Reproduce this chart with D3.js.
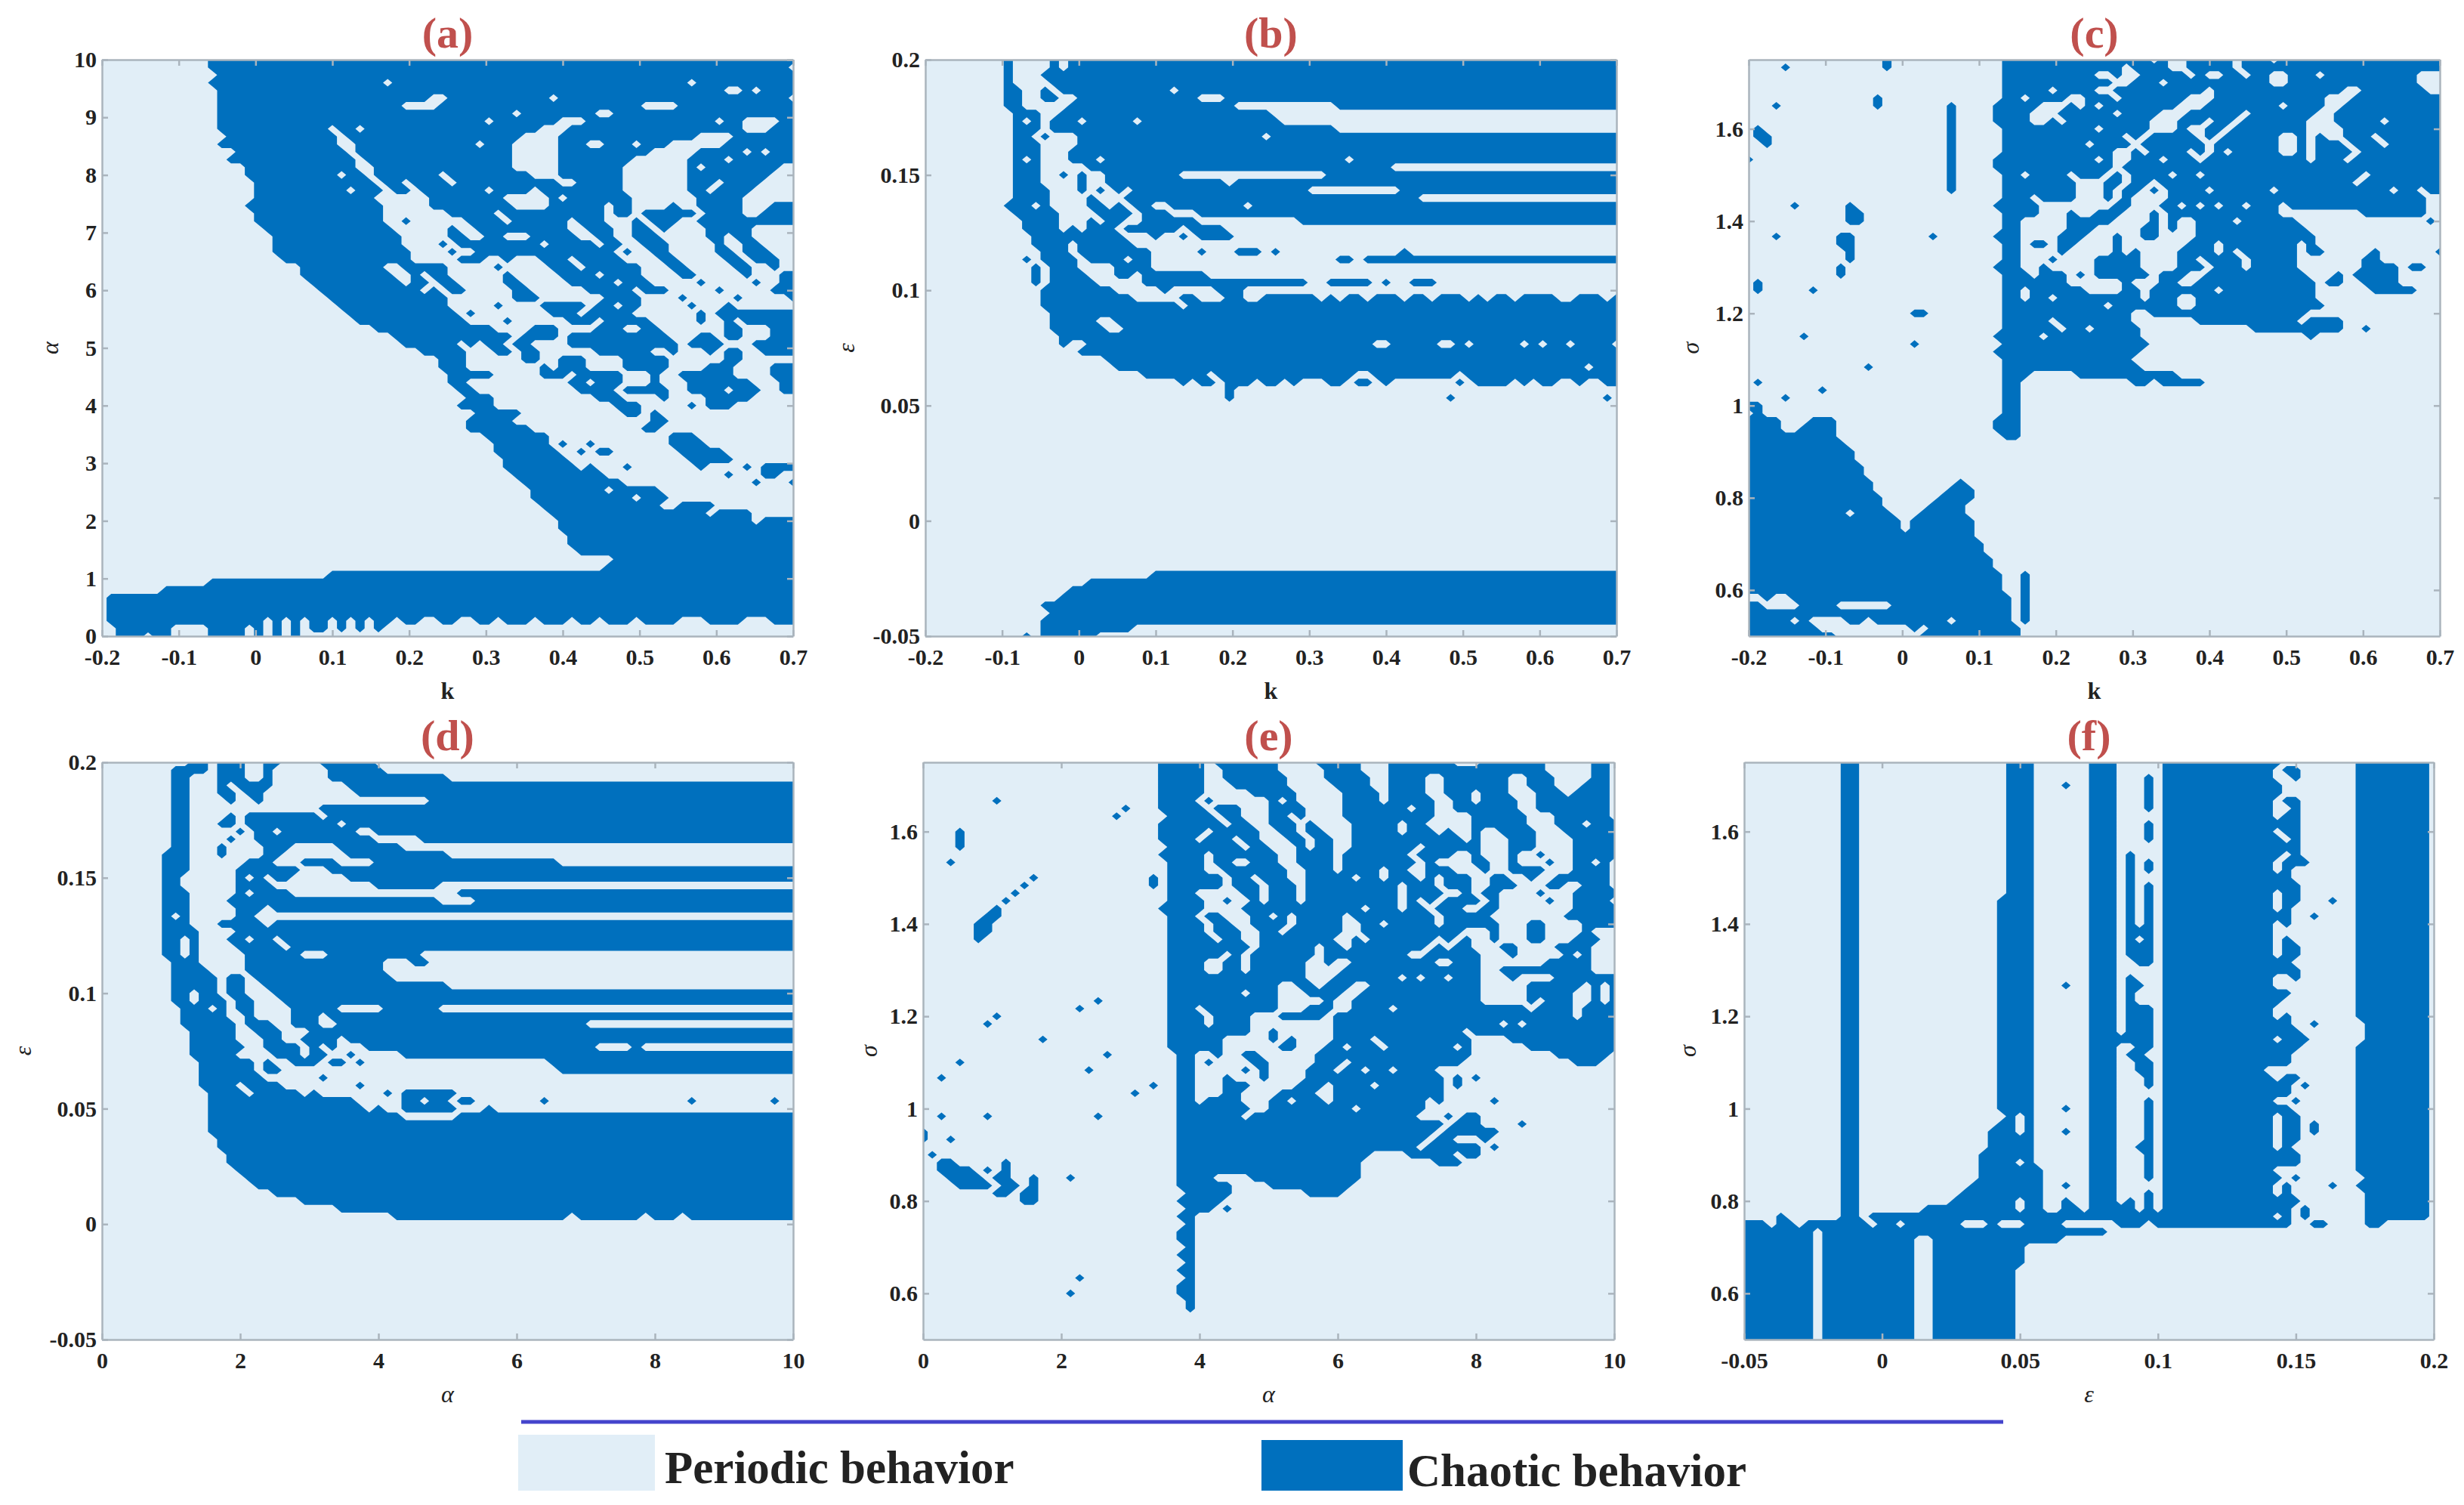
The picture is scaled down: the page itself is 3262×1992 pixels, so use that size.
<!DOCTYPE html>
<html>
<head>
<meta charset="utf-8">
<script src="https://cdn.jsdelivr.net/npm/d3@7"></script>
<style>
  html, body { margin: 0; background: #fff; }
  text { font-family: "Liberation Serif", serif; }
</style>
</head>
<body>
<svg id="chart" width="3262" height="1992"></svg>
<script>
// Each row (top to bottom) lists the chaotic columns of a 76x76 sweep: "runs/holes"
var rowsA = [
"12-75","12-74","13-75","12-75/31,64","13-75/68-69,71","13-74/36-37,49","13-75/33-36,59-62","13-75/45,54-55",
"13-75/42,50-52,67,70-73","13-75/25,28,48-50,70-72","14-75/26,46-49,65-68","13-75/26-27,41,45-49,53-54,58,62-67",
"15-75/27,45-49,60-64,70,72","14-75/28,45-49,58-63,68","16-75/28-29,45-49,57-63,65,74-75","16-75/26,29,37,47-49,57-63,73-75",
"17-75/30,33,38,50-51,57-63,67,72-75","17-75/27,31,34,42,47,57-63,66,71-75","17-75/30-35,44-48,50,58-64,70-75",
"16-75/31-35,45-48,55,58-61,63-64,70-72","17-75/31-37,43,55,58,65,70-71","17-75/31-32,34-39,44,51,55-57,59,63-64",
"18-75/32-37,39-40,51-52,56-57,60,62-65,71-75","19-75/33-37,40-41,44-46,52-53,56-57,61-65,68,71-75",
"19-75/33-36,38,48,54,57-58,62-66,68-69,72-75","19-75/34-37,39-40,56,58-59,62-66,69,73-75",
"20-75/34-38,42-43,45-47,51,57-60,63-67,70,74-75","22-75/31-32,38-42,44-48,52,59-61,64-68,71-72,74-75",
"22-75/32-33,35,38-43,45-49,54,59-62,65-69,71-73","23-75/33,36,39-43,46-50,56,60-64,66-70,72-73",
"24-75/35,37,40-44,47-52,58,62-66,68-72","25-75/38-44,48-54,59-62,64-68,70-74","26-75/38-42,44-47,53,56,59-63,65-67,69-75",
"27-75/39,41-48,52,58-64,66","28-75/40-43,45-50,54,60-64,66-67,69","30-75/43-46,50-53,57-58,61-65,66-67,70-72",
"32-75/45,50,62-64,67,70-72","33-75/39,41,44,47-50,63,68-70","35-75/40-42,45,48-53,60-61,63-65,67,70-71",
"37-75/40-45,48-49,53-56,62-67,70-75","37-75/40-47,49,53-56,62-65,69-72","38-75/43-47,51,57-59,61-62,69-72",
"38-75/40-50,53,57-59,61-63,71-73","39-75/41-51,56,62-63,68,72-73","40-42 54-56 61 66-70","39-42 56-58 64 66-68",
"41-45 57-58 60","40-44 60-61","40-46 59-60","42-48 62-64","43-48 50 53 62-65","43-49 52 54-55 63-67","44-50 64-68",
"44-51 53 57 65 70 72-75","45-54 68 72-73","46-56 71 75","47-60/55","47-61/58","48-66/61-62","49-70/66","50-75/71",
"50-75","51-75","51-75","52-75","56-75","55-75","25-75","12-75","7-75","1-75","1-75","1-75",
"1-75/18,20,22,25,27,29,32,35-36,39-40,43,47,51,54,58,63-65,70-72","2-7 12-15 17 19 21 23-24 26 28 30","2-4 6-7 12-15 17 19 21"
];
var rowsB = [
"9 14 16-75","9 14 16-75","9 13-75","9 14-75","9-10 13-75/14,27","9-10 13-14 17-75/30-32","9-10 16-75/34-44","10-12 15-37",
"10-12 14-38/11,17,23","10-12 14-44","10-13 17-75/12,37","10-12 17-75","10-12 16-75","10-12 16-75/11,19,46","10-12 18-50",
"10-12 15 17 20-75/28-43","10-12 17 20-75/33","10-13 17-75/18,20,22,42-51","10-13 18-53/19-21","9-13 18-75/12,20,22,25-26,35",
"10-14 19-75/23,27-29","11-14 18-75/19,22-23,30-40","11-14 16 18-32/21,28","12-21 25 28 30-33","12-22/16",
"13-24 30 34-36 38 52/16","11 13-16 18-24 45-46 48-75/22","12 14-16 21-24","12 14-17 21-22 24-30","12 14-18 24-41 44-48 50 53-55",
"13-20 26 32-34","13-22 28-29 33-34 37-75/43,45,48,52,55,59,61,64,69,70,74","13-75/28","14-75","14-75/19-20","14-75/20-21","15-75",
"15-75/16-17,49-50,56-57,59,65,67,70,75","17-75","20-75","21-75/72","24-75/31,47-48,58",
"28 30-31 33-35 37-38 40 44-45 47-48 50 58 60-63 65 67-68 71 74-75","33","33 57 74",
"","","","","","","","","","","","","","","","","","","","","","",
"25-75","18-75","16-75","15-75","13-75","14-75","13-75","13-22","11 13-18"
];
var rowsC = [
"15 28-75/44,46-47,53,57","4 15 28-75/41,46-47,53","28-75/38-39,41-42,48,50-51,54,57-58,62,73-75","28-75/40-41,45,57-58,73-75",
"28-75/33,38-39,50,65-66,74-75","14 28-75/30,35-36,40,48-50,63-65","3 14 22 27-75/32-34,36,38,47-49,58,63-64",
"22 27-75/31-33,40,45-47,54,62-63","22 27-75/31-32,34,44-46,50,53,61-63,69","1 22 28-75/38,44-46,48-49,52,61-64",
"1-2 22 28-75/41,43,49,51,58-59,61,63-64,68","2 22 28-75/37,42,50,58-59,61,65,69","22 28-75/40-41,43,48,50,52,58-59,61,66",
"0 22 27-75/38,40-41,45,49,61,65","22 27-75/40","22 28-75/30,35,39,41,46,49,67","22 28-75/36-38,41,44,66",
"22 28-75/36-38,40,43,45,50,57,70,73","28-75/31,36-38,40,42-45,74-75","5 11 27-75/32-39,42-44,47,49,51,54,58,74-75",
"11-12 28-75/32-34,36-37,41-43,45,58-66,74-75","11-12 28-59 74/30-34,40-43,45,47-48,53","28-60/30-34,38-42,45,47-48",
"3 10-11 20 27-61/30-33,37-39,41-42,45-48","10-11 28-61/30,33,36-39,41-42,43,44-47,51,60","11 28-62 68 75/30-33,35-39,41,43-46,51,53,60",
"11 28-59 67-68/30-32,34-37,43-46,49,54","10 27-59 67-70 72-73/30-31,33-37,43-46,50,54","10 28-60 64 66-70/31,35,37,44,48-49",
"1 28-61 63-64 67-70/35-40,42-44,47-48","1 7 28-61 68-72/30,37-40,43,51","28-61/30,33,43,47-48","28-62/39,47-48","18-19 28-60/42-43",
"28-64/33,42-48,60","28-42 55-64 67/34,37","6 27-42 61/32","18 28-43","27-42","28-41","13 28-42","28-30 36-46","1 28-29 42-43 45-49",
"8 28-29","4 28-29","0-1 28-29","1 28-29","0-3 7-9 27-29","0-3 6-9 27-29","0-9 28-29","0-10","0-11","0-11","0-12","0-12","0-13 23",
"0-13 22-24","0-14 21-24","0-14 20-23","0-15 19-23/11","0-16 18-24","0-16 18-24","0-24","0-25","0-25","0-26","0-26","0-27 30",
"0-27 30","0-27 30","2-28 30/3-4","0-28 30/2-5,10-15","0-28 30","0-30/5,7-10,13,22,29","0-29/8-17,19","0-9 19-29"
];
var rowsD = [
"10-11 13-15 18-19 24-29","8-11 13-15 18 25-30","8-9 13-15 18 25-37","8-9 13-18 27-75/14","8-9 13-14 16-17 28-75","8-9 14 17 36-75",
"8-9 24-75","8-9 14 16-75/24","8-9 13-14 16-75/26","8-9 15 17-75/19,28-29","8-9 14 17-75/30-34","8-9 13 18-20 26-32","7-9 13 18-19 27-37",
"7-9 16-18 22-25 30-49","7-9 15-75/22-24","7-8 15-75/16,18,21-26","7-8 15-18 30-36","7-9 15-20 39-75/16","7-9 14-36 41-75","7-9 15-17 19-75",
"7-9 15-16/8","7-9 13-17 19-75","7-10 15-75","7-10 14-75/9,16,19","7-10 15-75/9,20","7-10 16-34/9,22-24","8-10 16-30 34-35","8-11 16-30",
"8-12 14-15 17-31","8-12 14-15 18-37","8-12 14-15 19-75/10","8-13 15-16 20-75/10","9-13 15-16 21-36/12,26-30","9-13 16 21-75/24",
"9-14 16-18 21-52/24-25","10-14 17-19 23-75","10-14 18-19 22-25 27-75","10-15 18-21 23 25 29-53 58","10-14 19-21 23-24 27 33-75",
"11-16 18 21-23 25-26 28 49-75","11-16 18-19 50-75","11-17 24","11-19 28/15","12-21 23 31 33-38/16","12-27 33-40 48 64 73/35,38",
"12-28 30 33-38 42","12-32 39-75","12-75","12-75","13-75","13-75","14-75","14-75","15-75","16-75","17-75","19-75","22-75",
"26-75","32-50 52-58 60-62 64-75"
];
var rowsE = [
"26-30 32-38 43-47 51-74/58-60,68-72","26-30 33-38 44-47 51-74/68-72","26-30 33-39 44-48 51-74/55-56,64-65,69-72","26-30 34-39 45-48 51-74/55-56,64-65,69-71",
"26-30 36-40 46-49 51-74/55-56,60,64-66,70","8 26-49 51-74/30,32-37,39,41-45,56-57,60,65-66","22 26-74/31,35-37,42-45,53,56-57,65-66",
"21 27-74/32,35-37,40,42-45,56-59,66-68","26-75/33,36-37,41,43-46,52,55-59,66-68,72","4 26-75/31,37-38,41,44-46,52,56,58-59,61-62,67-69",
"4 26-75/30,34,37-39,42,45-46,59,61-63,67-70","4 27-75/35,38-40,42,45-46,54,61-63,67-70","26-75/31,39-40,45,53,58-59,61-63,65-66,68-70",
"3 27-75/31,34-35,39-40,45,54,56-59,62-63,65-67,69-70,73,75","27-74/31-32,40-41,45,50,53-54,58-59,60,62-63,68-70",
"12 25-75/26,33,36,40-41,47,50,54,56,60-61,64-65,67-68,75","11 25-75/26,33,37,41,52,56,60-61,65-67,70-71,75",
"10 27-75/30-32,33-34,37,41,52,57-58,60,63-66,68-70","9 27-75/31-32,34-35,37,41,52,54,56,61,63-67,69-70,75",
"8 26-75/31-34,48,52,55,59-60,63-70","7-8 27-75/30,33-35,38,40,46,56,62,63-69","6-7 27-75/31,34-35,40,46-47,50,56,63-65,68-71",
"6-7 27-72/31,35-36,39,46-47,59-61,63-65,68-71","6 27-73/32,35-36,45-46,48,56,58,60-61,63-65,68-69,70","27-72/36,43,46,55,57,60-62,65-68",
"27-72 /33,35,43,53-54,61-63,65-69,71","27-72/31-32,35,42-43,45-46,56-57,61-67","27-75/31-32,35,42-45,61-62,73-75",
"27-75/42-44,52,54,57,61-63,65-68","27-75/39-40,43,47-48,61-65,72,74","27-75/35,39-41,46-47,61-65,71-72,74","19 27-75/39-43,45-46,61-65,67,71-72,74",
"17 27-75/30,39-41,45-46,51,66,71","8 27-75/31,36-38,44,71","7 27-75/31,36-41,42-44,63,65","27-75/36-37,39-44,59",
"13 27-75/33-35,36-37,39,41-44,49,60-63","27-75/33-35,36-38,41-43,46,50,58,60-65","20 28-59 69-74/30-31,33-34,37-40,41-42",
"4 28-58 71-73/30,32-35,38-42,46","18 28-56/30-31,32-34,36,38-41,45,48,51,56","2 28-56 58 60/30-32,34-36,38-41",
"25 28-56 58/30-32,36-40,44,49","23 28-56/30-32,35-38,43-44","28-56 62/30,35-37,40,44,55","28-54/36-37,47","2 7 19 28-53 57 59-60/35",
"28-60 65/57","0 28-62/56","0 3 28-61/55,58-60","28-60 62/54","1 28-48 53-60/58","2-3 9 28-47 56-58","2-5 7 9 28-47","3-9 12 16 28-31 36-47/7",
"4-10 12 28-33 38-46/8","8-9 11-12 29-33 42-45","11-12 28-32","29-31 33","28-29","29","28-29","28-29","29","28-29","29","28-29","17 29","28-29",
"16 28-29","29","29"
];
var rowsF = [
"11-12 29-31 38-40 46-58 67-74","11-12 29-31 38-40 46-57 59-60 67-74","11-12 29-31 38-40 44 46-57 60 67-74","11-12 29-31 35 38-40 44 46-58 67-74",
"11-12 29-31 38-40 44 46-58 67-74","11-12 29-31 38-40 44 46-60 67-74/58","11-12 29-31 38-40 44 46-60 67-74/58-59","11-12 29-31 38-40 46-60 67-74/58",
"11-12 29-31 38-40 44 46-60 67-74","11-12 29-31 38-40 44 46-60 67-74/58","11-12 29-31 38-40 44 46-60 67-74/59","11-12 29-31 38-40 46-60 67-74",
"11-12 29-31 38-40 42 46-60 67-74/59","11-12 29-31 38-40 42 44 46-61 67-74/58","11-12 29-31 38-40 42 44 46-59 67-74/58","11-12 29-31 38-40 42 46-59 67-74",
"11-12 29-31 38-40 42 44 46-60 67-74","11-12 29-31 38-40 42 44 46-60 67-74/58","11-12 28-31 38-40 42 44 46-60 64 67-74/58","11-12 28-31 38-40 42 44 46-59 67-74/58",
"11-12 28-31 38-40 42 44 46-59 62 67-74","11-12 28-31 38-40 42 44 46-57 59 67-74","11-12 28-31 38-40 42-44 46-57 67-74","11-12 28-31 38-40 42-44 46-57 59 67-74/43",
"11-12 28-31 38-40 42-44 46-57 59-60 67-74","11-12 28-31 38-40 42-44 46-57 59-60 67-74","11-12 28-31 38-40 43-44 46-59 67-74","11-12 28-31 38-40 46-60 67-74",
"11-12 28-31 38-40 42 46-57 60 67-74","11-12 28-31 35 38-40 42-43 46-57 67-74","11-12 28-31 38-40 42 46-59 67-74","11-12 28-31 38-40 42 46-58 67-74",
"11-12 28-31 38-40 42-44 46-57 67-74","11-12 28-31 38-40 42-44 46-57 59 67-74","11-12 28-31 38-40 42-44 46-59 62 68-74","11-12 28-31 38-40 42-44 46-60 68-74",
"11-12 28-31 38-44 46-61 68-74/58","11-12 28-31 38-40 43-44 46-60 67-74","11-12 28-31 38-40 42-43 46-59 67-74","11-12 28-31 38-40 43-44 46-59 67-74",
"11-12 28-31 38-40 43-44 46-56 67-74","11-12 28-31 38-40 44 46-57 59-60 67-74","11-12 28-31 38-40 44 46-59 61 67-74","11-12 28-31 38-40 46-59 67-74",
"11-12 28-31 38-40 44 46-60 67-74/58-59","11-12 28-31 35 38-40 44 46-59 67-74","11-12 29-31 38-40 44 46-57 59-60 67-74/30","11-12 28-31 38-40 44 46-57 59-60 62 67-74/30",
"11-12 27-31 35 38-40 44 46-57 59-60 62 67-74/30","11-12 27-31 38-40 44 46-57 59-60 67-74","11-12 27-31 38-40 43-44 46-57 59 67-74","11-12 26-31 38-40 44 46-60 67-74",
"11-12 26-31 38-40 44 46-60 67-74/30","11-12 26-32 38-40 44 46-57 67-74","11-12 26-32 38-40 44 46-58 60 68-74","11-12 25-32 35 38-40 46-57 59 64 67-74",
"11-12 24-32 38-40 44 46-59 68-74/58","11-12 23-32 35 38-40 42 44 46-60 68-74/30","11-12 20-32 35-36 38-42 44 46-61 68-74/30,60","4 11-12 14-61 68-74/58,60",
"0-59 62-63 68-69/3,6,14,17,24-26,28-30,35-40,44","0-39/8","0-7 9-18 21-34","0-7 9-18 21-30","0-7 9-18 21-30","0-7 9-18 21-30","0-7 9-18 21-29","0-7 9-18 21-29",
"0-7 9-18 21-29","0-7 9-18 21-29","0-7 9-18 21-29","0-7 9-18 21-29","0-7 9-18 21-29","0-7 9-18 21-29","0-7 9-18 21-29","0-7 9-18 21-29"
];

var kDomain = [-0.2, 0.7];
var alphaDomain = [0, 10];
var epsDomain = [-0.05, 0.2];
var sigmaDomain = [0.5, 1.75];
var kTicks = [-0.2, -0.1, 0, 0.1, 0.2, 0.3, 0.4, 0.5, 0.6, 0.7];
var alphaTicksX = [0, 2, 4, 6, 8, 10];
var alphaTicksY = [0, 1, 2, 3, 4, 5, 6, 7, 8, 9, 10];
var epsTicks = [-0.05, 0, 0.05, 0.1, 0.15, 0.2];
var sigmaTicks = [0.6, 0.8, 1, 1.2, 1.4, 1.6];

var panelTitles = ["(a)", "(b)", "(c)", "(d)", "(e)", "(f)"];
var legendLabels = ["Periodic behavior", "Chaotic behavior"];

var periodicColor = "#e1eef7";
var chaoticColor = "#0070be";
var frameColor = "#aab4bd";
var N = 76;

var panels = [
	{title: panelTitles[0], rows: rowsA, xd: kDomain, yd: alphaDomain, xt: kTicks, yt: alphaTicksY, xl: "k", yl: "\u03b1", box: [135, 79, 1050, 842], ylx: 77},
	{title: panelTitles[1], rows: rowsB, xd: kDomain, yd: epsDomain, xt: kTicks, yt: epsTicks, xl: "k", yl: "\u03b5", box: [1225, 79, 2140, 842], ylx: 1131},
	{title: panelTitles[2], rows: rowsC, xd: kDomain, yd: sigmaDomain, xt: kTicks, yt: sigmaTicks, xl: "k", yl: "\u03c3", box: [2315, 79, 3230, 842], ylx: 2249},
	{title: panelTitles[3], rows: rowsD, xd: alphaDomain, yd: epsDomain, xt: alphaTicksX, yt: epsTicks, xl: "\u03b1", yl: "\u03b5", box: [135, 1009, 1050, 1773], ylx: 41},
	{title: panelTitles[4], rows: rowsE, xd: alphaDomain, yd: sigmaDomain, xt: alphaTicksX, yt: sigmaTicks, xl: "\u03b1", yl: "\u03c3", box: [1222, 1009, 2137, 1773], ylx: 1161},
	{title: panelTitles[5], rows: rowsF, xd: epsDomain, yd: sigmaDomain, xt: epsTicks, yt: sigmaTicks, xl: "\u03b5", yl: "\u03c3", box: [2309, 1009, 3222, 1773], ylx: 2245}
];

function decode(rows) {
	var grid = new Array(N * N).fill(0);
	rows.forEach(function (s, r) {
		if (!s) return;
		var parts = s.split("/");
		parts[0].trim().split(/\s+/).forEach(function (run) {
			var b = run.split("-");
			for (var c = +b[0]; c <= +(b[1] || b[0]); c++) grid[r * N + c] = 1;
		});
		if (parts[1]) parts[1].split(",").forEach(function (run) {
			var b = run.split("-");
			for (var c = +b[0]; c <= +(b[1] || b[0]); c++) grid[r * N + c] = 0;
		});
	});
	return grid;
}

var svg = d3.select("#chart");

panels.forEach(function (p, idx) {
	var left = p.box[0], top = p.box[1], right = p.box[2], bottom = p.box[3];
	var x = d3.scaleLinear().domain(p.xd).range([left, right]);
	var y = d3.scaleLinear().domain(p.yd).range([bottom, top]);
	// grid index -> pixel, d3.contours puts sample i at i+0.5
	var col = d3.scaleLinear().domain([0.5, N - 0.5]).range([left, right]);
	var row = d3.scaleLinear().domain([0.5, N - 0.5]).range([top, bottom]);

	var g = svg.append("g");
	g.append("clipPath").attr("id", "clip" + idx).append("rect")
		.attr("x", left).attr("y", top).attr("width", right - left).attr("height", bottom - top);
	g.append("rect")
		.attr("x", left).attr("y", top).attr("width", right - left).attr("height", bottom - top)
		.attr("fill", periodicColor);

	var contours = d3.contours().size([N, N]).thresholds([0.5])(decode(p.rows));
	var path = d3.geoPath().projection(d3.geoTransform({
		point: function (a, b) { this.stream.point(col(a), row(b)); }
	}));
	g.append("path")
		.attr("clip-path", "url(#clip" + idx + ")")
		.attr("d", path(contours[0]))
		.attr("fill", chaoticColor);

	var fmt = function (d) { return String(d); };
	g.append("g").attr("transform", "translate(0," + bottom + ")")
		.call(d3.axisBottom(x).tickValues(p.xt).tickFormat(fmt).tickSizeInner(-8).tickSizeOuter(0).tickPadding(17));
	g.append("g").attr("transform", "translate(" + left + ",0)")
		.call(d3.axisLeft(y).tickValues(p.yt).tickFormat(fmt).tickSizeInner(-8).tickSizeOuter(0).tickPadding(7));
	g.append("g").attr("transform", "translate(0," + top + ")")
		.call(d3.axisTop(x).tickValues(p.xt).tickFormat("").tickSizeInner(-8).tickSizeOuter(0));
	g.append("g").attr("transform", "translate(" + right + ",0)")
		.call(d3.axisRight(y).tickValues(p.yt).tickFormat("").tickSizeInner(-8).tickSizeOuter(0));

	g.selectAll(".domain, .tick line").attr("stroke", frameColor).attr("stroke-width", 2.5);
	g.selectAll(".tick text")
		.attr("fill", "#222")
		.style("font-family", "'Liberation Serif', serif")
		.style("font-weight", "bold")
		.style("font-size", "30px");

	// panel title
	g.append("text")
		.attr("x", (left + right) / 2).attr("y", top - 16)
		.attr("text-anchor", "middle")
		.attr("fill", "#c0504d")
		.style("font-size", "58px").style("font-weight", "bold")
		.text(p.title);
	// axis names, the greek ones are thin italics
	g.append("text")
		.attr("x", (left + right) / 2).attr("y", bottom + 83)
		.attr("text-anchor", "middle").attr("fill", "#222")
		.style("font-size", "32px").style("font-weight", p.xl == "k" ? "bold" : "normal")
		.style("font-style", p.xl == "k" ? "normal" : "italic")
		.text(p.xl);
	g.append("text")
		.attr("transform", "translate(" + p.ylx + "," + (top + bottom) / 2 + ") rotate(-90)")
		.attr("text-anchor", "middle").attr("fill", "#222")
		.style("font-size", "32px").style("font-style", "italic")
		.text(p.yl);
});

/* legend */
var legendX = d3.scalePoint().domain(legendLabels).range([686, 1670]);
var lg = svg.append("g");
lg.append("line")
	.attr("x1", 690).attr("x2", 2652).attr("y1", 1882).attr("y2", 1882)
	.attr("stroke", "#4444cc").attr("stroke-width", 5);
lg.append("rect").attr("x", legendX(legendLabels[0])).attr("y", 1899).attr("width", 181).attr("height", 74).attr("fill", periodicColor);
lg.append("rect").attr("x", legendX(legendLabels[1])).attr("y", 1906).attr("width", 187).attr("height", 67).attr("fill", chaoticColor);
lg.append("text").attr("x", 880).attr("y", 1963)
	.attr("fill", "#222").style("font-size", "61px").style("font-weight", "bold").text(legendLabels[0]);
lg.append("text").attr("x", 1863).attr("y", 1967)
	.attr("fill", "#222").style("font-size", "61px").style("font-weight", "bold").text(legendLabels[1]);
</script>
</body>
</html>
